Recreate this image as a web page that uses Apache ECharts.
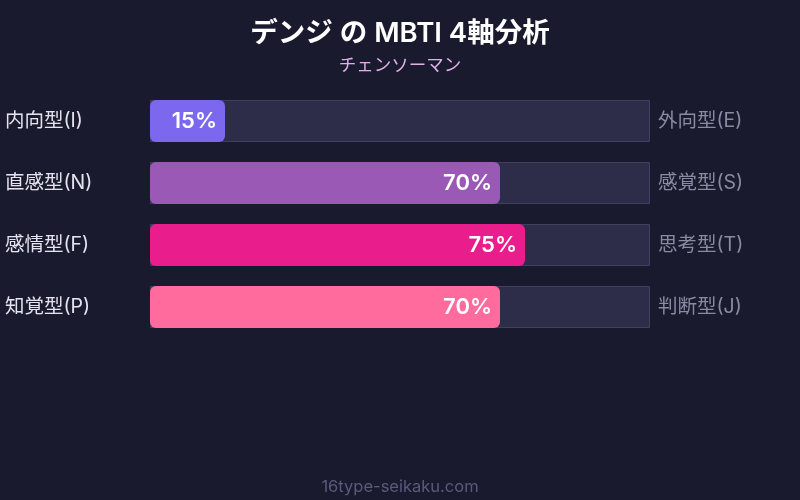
<!DOCTYPE html>
<html><head><meta charset="utf-8">
<script src="https://cdn.jsdelivr.net/npm/echarts@6/dist/echarts.min.js"></script>
<style>html,body{margin:0;padding:0;background:#1a1a2e;}#c{width:800px;height:500px;}</style>
</head><body><div id="c"></div>
<script>
const leftLabels = ['内向型(I)', '直感型(N)', '感情型(F)', '知覚型(P)'];
const rightLabels = ['外向型(E)', '感覚型(S)', '思考型(T)', '判断型(J)'];
const values = [15, 70, 75, 70];
const barColors = ['#7b68ee', '#9b59b6', '#e91e8c', '#ff6b9d'];
const full = [100, 100, 100, 100];

const chart = echarts.init(document.getElementById('c'));
const font = 'Inter, "Noto Sans CJK JP", sans-serif';
chart.setOption({
  backgroundColor: '#1a1a2e',
  textStyle: { fontFamily: font },
  title: [
    { text: 'デンジ の MBTI 4軸分析', left: 'center', top: 15,
      textStyle: { color: '#ffffff', fontSize: 27.5, fontWeight: 600, fontFamily: font } },
    { text: 'チェンソーマン', left: 'center', top: 52,
      textStyle: { color: '#e0b0e8', fontSize: 17.5, fontWeight: 'normal', fontFamily: font } },
    { text: '16type-seikaku.com', left: 'center', top: 474,
      textStyle: { color: '#5a5a7c', fontSize: 16.5, fontWeight: 'normal', fontFamily: font } }
  ],
  grid: { left: 150, right: 150, top: 90, height: 248 },
  xAxis: { type: 'value', min: 0, max: 100, show: false },
  yAxis: [
    { type: 'category', data: leftLabels, inverse: true, position: 'left',
      axisLine: { show: false }, axisTick: { show: false },
      axisLabel: { color: '#e4e4f0', fontSize: 19.5, align: 'left', margin: 145, padding: [0, 0, 3, 0], fontFamily: font } },
    { type: 'category', data: rightLabels, inverse: true, position: 'right',
      axisLine: { show: false }, axisTick: { show: false },
      axisLabel: { color: '#8a8aa0', fontSize: 19.5, align: 'left', margin: 8, padding: [0, 0, 3, 0], fontFamily: font } }
  ],
  series: [
    { type: 'bar', data: full, barWidth: 42, silent: true, yAxisIndex: 0,
      itemStyle: { color: '#2d2d4a', borderColor: '#3f3f60', borderWidth: 1 }, z: 1 },
    { type: 'bar', data: values.map((v, i) => ({ value: v, itemStyle: { color: barColors[i] } })),
      barWidth: 42, barGap: '-100%', yAxisIndex: 0, z: 2,
      itemStyle: { borderRadius: 6 },
      label: { show: true, position: 'insideRight', formatter: '{c}%', color: '#ffffff',
        fontSize: 22, fontWeight: 600, distance: 8, fontFamily: font } }
  ]
});
</script></body></html>
